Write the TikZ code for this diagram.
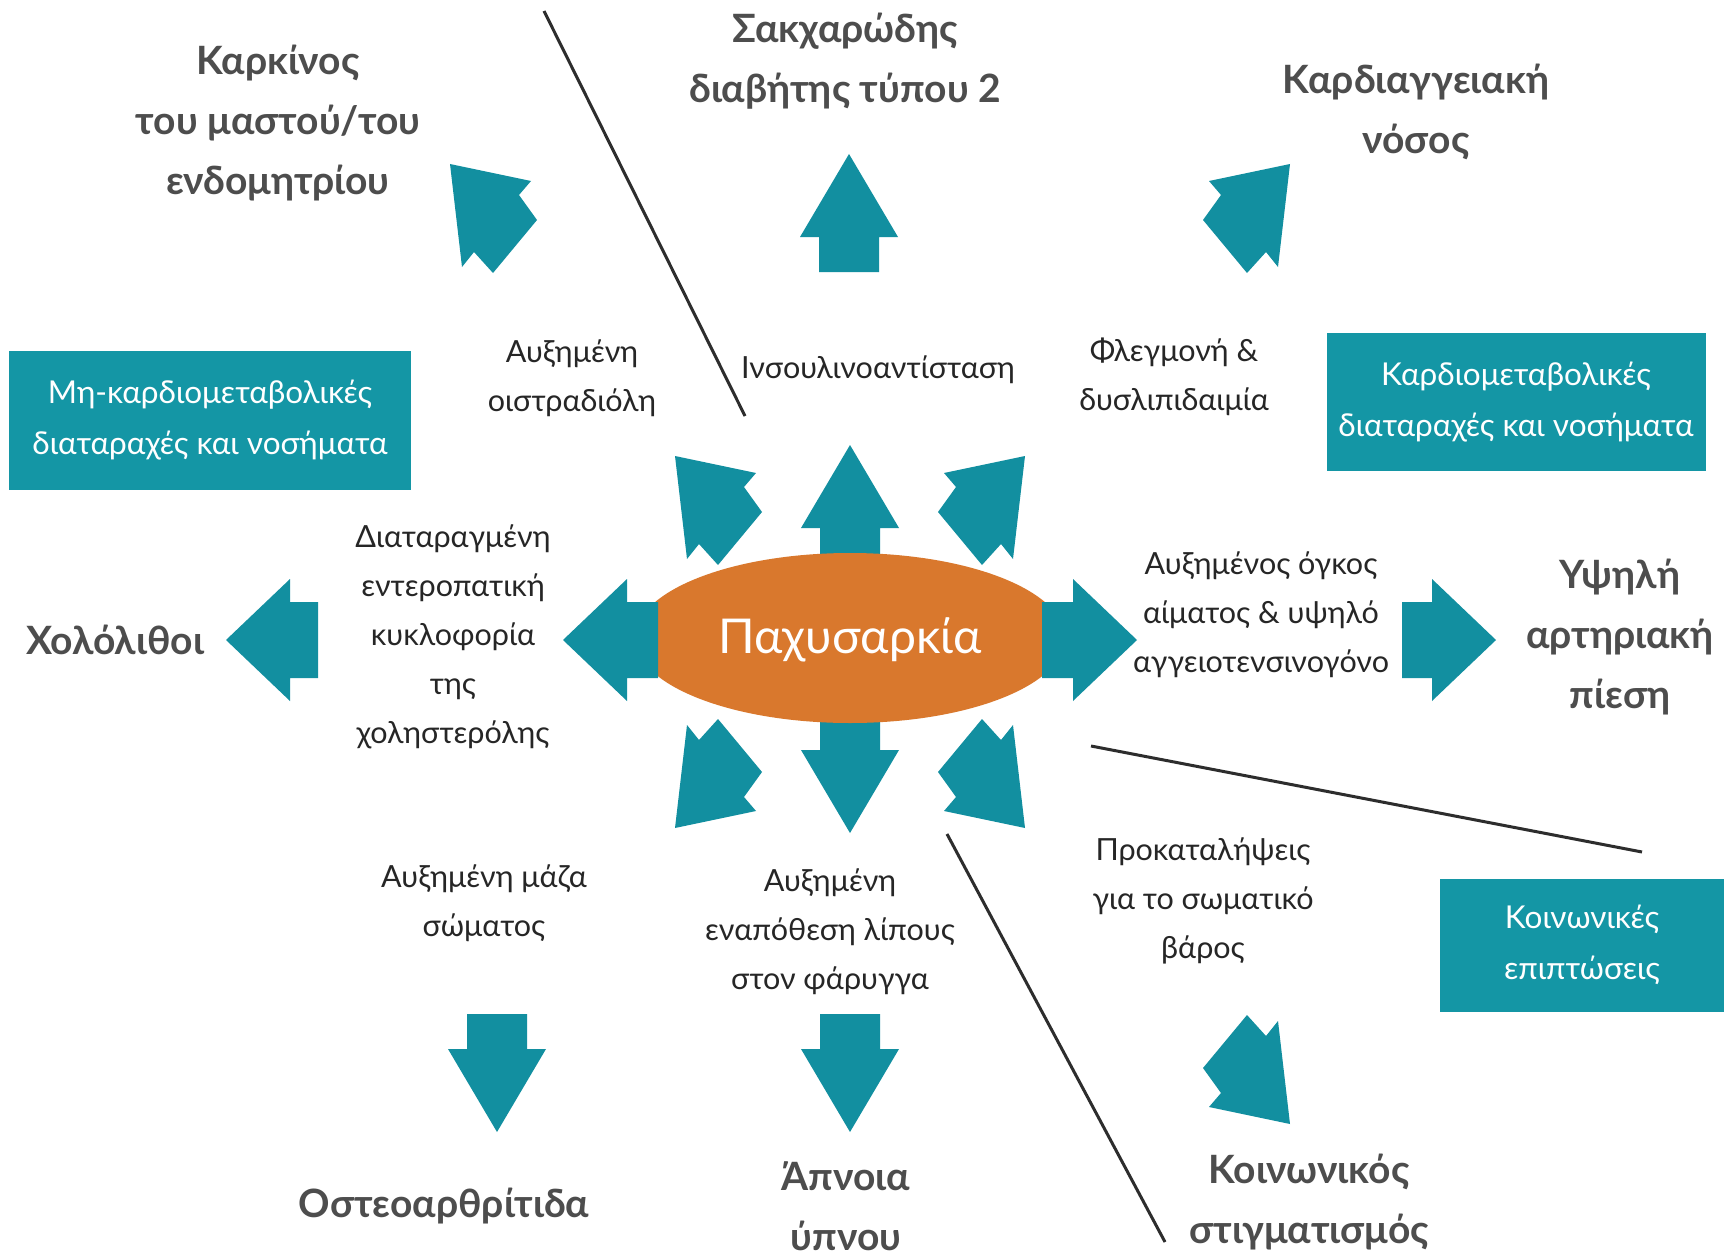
\documentclass[tikz,border=0pt]{standalone}
\usepackage{fontspec}
\usetikzlibrary{shapes.geometric}
\setmainfont{Lato}
\definecolor{tealA}{RGB}{18,143,160}
\definecolor{tealB}{RGB}{20,150,165}
\definecolor{orangeA}{RGB}{217,120,45}
\definecolor{grayT}{RGB}{77,77,77}
\definecolor{lineC}{RGB}{45,45,45}
\tikzset{
  bigtxt/.style={font=\fontsize{39}{60}\selectfont\bfseries, text=grayT, align=center},
  smalltxt/.style={font=\fontsize{30.5}{49}\selectfont, text=black!85, align=center},
  boxtxt/.style={font=\fontsize{31.5}{51}\selectfont, text=white, align=center, fill=tealB, inner sep=0pt},
  arr/.style={fill=tealA},
  sep/.style={draw=lineC, line width=3pt},
}
\newcommand{\diagarrow}[2]{% tip position, scale options
  \begin{scope}[shift={#1},#2]
    \fill[arr] (0,0) -- (81,17) -- (69,31) -- (87,56) -- (43,109) -- (24,88) -- (12,103) -- cycle;
  \end{scope}}
\newcommand{\vertarrow}[3]{% tip, options, shaft length
  \begin{scope}[shift={#1},#2]
    \fill[arr] (0,0) -- (49,83) -- (30,83) -- (30,#3) -- (-30,#3) -- (-30,83) -- (-49,83) -- cycle;
  \end{scope}}
\newcommand{\horarrow}[3]{% tip, options, shaft length
  \begin{scope}[shift={#1},#2]
    \fill[arr] (0,0) -- (64,-61) -- (64,-38) -- (#3,-38) -- (#3,38) -- (64,38) -- (64,61) -- cycle;
  \end{scope}}
\begin{document}
\begin{tikzpicture}[x=1pt,y=-1pt]
\useasboundingbox (0,0) rectangle (1731,1260);
\fill[white] (0,0) rectangle (1731,1260);
% separator lines
\coordinate (l1a) at (544,11); \coordinate (l1b) at (745,416);
\coordinate (l2a) at (1091,746); \coordinate (l2b) at (1642,852);
\coordinate (l3a) at (947,834); \coordinate (l3b) at (1165,1242);
\draw[sep] (l1a) -- (l1b);
\draw[sep] (l2a) -- (l2b);
\draw[sep] (l3a) -- (l3b);
% inner arrows (under ellipse)
\vertarrow{(850,445)}{}{125}
\vertarrow{(850,833)}{yscale=-1}{125}
\diagarrow{(675,456)}{}
\diagarrow{(1025,456)}{xscale=-1}
\diagarrow{(675,828)}{yscale=-1}
\diagarrow{(1025,828)}{xscale=-1,yscale=-1}
% central ellipse
\node[ellipse, fill=orangeA, minimum width=430pt, minimum height=170pt, inner sep=0pt] (pax) at (850,638) {};
\horarrow{(563,640)}{}{95}
\horarrow{(1137,640)}{xscale=-1}{95}
\node[font=\fontsize{48}{50}\selectfont, text=white] (paxt) at (850,640) {Παχυσαρκία};
% outer arrows
\diagarrow{(450,164)}{}
\diagarrow{(1290,164)}{xscale=-1}
\diagarrow{(1290,1124)}{xscale=-1,yscale=-1}
\vertarrow{(849,154)}{}{118}
\vertarrow{(497,1132)}{yscale=-1}{118}
\vertarrow{(850,1132)}{yscale=-1}{118}
\horarrow{(226,640)}{}{92}
\horarrow{(1496,640)}{xscale=-1}{94}
% boxes
\node[boxtxt, minimum width=402pt, minimum height=139pt] (b1) at (210,420) {Μη-καρδιομεταβολικές\\διαταραχές και νοσήματα};
\node[boxtxt, minimum width=379pt, minimum height=138pt] (b2) at (1516,402) {Καρδιομεταβολικές\\διαταραχές και νοσήματα};
\node[boxtxt, minimum width=284pt, minimum height=133pt] (b3) at (1582,945) {Κοινωνικές\\επιπτώσεις};
% outer labels
\node[bigtxt] (t1) at (845,61) {Σακχαρώδης\\διαβήτης τύπου 2};
\node[bigtxt] (t2) at (278,123) {Καρκίνος\\του μαστού/του\\ενδομητρίου};
\node[bigtxt] (t3) at (1416,112) {Καρδιαγγειακή\\νόσος};
\node[bigtxt] (t4) at (115,640) {Χολόλιθοι};
\node[bigtxt] (t5) at (1620,637) {Υψηλή\\αρτηριακή\\πίεση};
\node[bigtxt] (t6) at (444,1206) {Οστεοαρθρίτιδα};
\node[bigtxt] (t7) at (846,1206) {Άπνοια\\ύπνου};
\node[bigtxt] (t8) at (1309,1202) {Κοινωνικός\\στιγματισμός};
% inner labels
\node[smalltxt] (s1) at (572,378) {Αυξημένη\\οιστραδιόλη};
\node[smalltxt] (s2) at (878,370) {Ινσουλινοαντίσταση};
\node[smalltxt] (s3) at (1174,377) {Φλεγμονή \&\\δυσλιπιδαιμία};
\node[smalltxt] (s4) at (453,637) {Διαταραγμένη\\εντεροπατική\\κυκλοφορία\\της\\χοληστερόλης};
\node[smalltxt] (s5) at (1261,615) {Αυξημένος όγκος\\αίματος \& υψηλό\\αγγειοτενσινογόνο};
\node[smalltxt] (s6) at (484,903) {Αυξημένη μάζα\\σώματος};
\node[smalltxt] (s7) at (830,932) {Αυξημένη\\εναπόθεση λίπους\\στον φάρυγγα};
\node[smalltxt] (s8) at (1203,901) {Προκαταλήψεις\\για το σωματικό\\βάρος};
\end{tikzpicture}
\end{document}
